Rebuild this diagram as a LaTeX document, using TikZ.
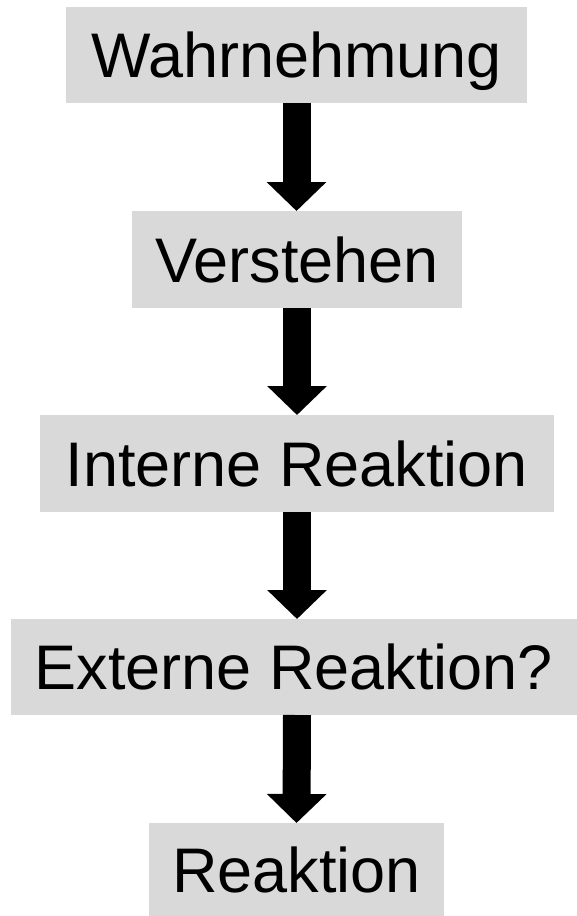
\documentclass[tikz,border=0pt]{standalone}
\usepackage{fontspec}
\setmainfont{Liberation Sans}
\usetikzlibrary{arrows.meta}
\definecolor{boxgray}{HTML}{D9D9D9}
\tikzset{
  stepbox/.style={fill=boxgray, draw=none, inner sep=0pt, outer sep=0pt,
    text height=45pt, text depth=0pt, font=\fontsize{63}{70}\selectfont},
  bigarrow/.style={line width=28pt, -{Triangle[length=29pt,width=58pt]}}
}
\begin{document}
\begin{tikzpicture}[x=1pt,y=-1pt]
\useasboundingbox (0,0) rectangle (577,916);
\node[stepbox, minimum width=461pt, minimum height=96pt] (n1) at (296.5,55) {Wahrnehmung};
\node[stepbox, minimum width=330pt, minimum height=97pt] (n2) at (297,259.5) {Verstehen};
\node[stepbox, minimum width=514pt, minimum height=97pt] (n3) at (297,463.5) {Interne Reaktion};
\node[stepbox, minimum width=566pt, minimum height=96pt] (n4) at (294,667) {Externe Reaktion?};
\node[stepbox, minimum width=295pt, minimum height=93pt] (n5) at (296.5,869.5) {Reaktion};
\draw[bigarrow] (n1.south) -- (n1.south |- n2.north);
\draw[bigarrow] (n2.south) -- (n2.south |- n3.north);
\draw[bigarrow] (n3.south) -- (n3.south |- n4.north);
\draw[bigarrow] (n4.south -| n3.south) -- (n5.north);
\end{tikzpicture}
\end{document}
